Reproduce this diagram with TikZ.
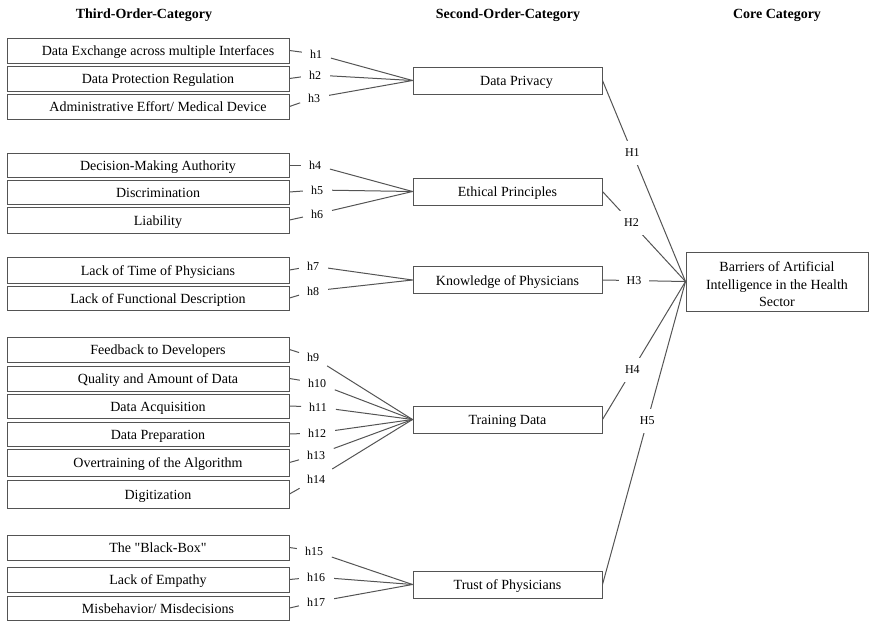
\documentclass[tikz,border=0pt]{standalone}
\usepackage{fontspec}
\setmainfont{Liberation Serif}
\newfontfamily\qfont{Liberation Serif}[Ligatures=TeXOff]
\definecolor{linegray}{gray}{0.33}
\begin{document}
\begin{tikzpicture}[x=1pt,y=-1pt,
  tbox/.style={draw=linegray, line width=1pt, minimum width=282pt, inner sep=0pt, text height=11pt, text depth=1pt, font=\fontsize{14}{17}\selectfont, execute at begin node=\hspace*{20pt}},
  sbox/.style={draw=linegray, line width=1pt, minimum width=189pt, minimum height=27pt, inner sep=0pt, text height=11pt, text depth=1pt, font=\fontsize{14}{17}\selectfont},
  cbox/.style={draw=linegray, line width=1pt, minimum width=182pt, minimum height=59pt, inner sep=0pt, align=center, font=\fontsize{14}{17.5}\selectfont},
  hlab/.style={inner sep=2pt, font=\fontsize{12}{14}\selectfont},
  Hlab/.style={fill=white, inner sep=8pt, font=\fontsize{12}{14}\selectfont},
  head/.style={font=\fontsize{14}{17}\selectfont\bfseries},
  con/.style={draw=linegray, line width=1pt}]
\useasboundingbox (0,0) rectangle (870,621);

% headers
\node[head] (t3) at (144,15) {Third-Order-Category};
\node[head] (t2) at (508,15) {Second-Order-Category};
\node[head] (t1) at (777,15) {Core Category};

% third-order boxes
\node[tbox, minimum height=25pt] (b1) at (148,50.5) {Data Exchange across multiple Interfaces};
\node[tbox, minimum height=25pt] (b2) at (148,78.5) {Data Protection Regulation};
\node[tbox, minimum height=25pt] (b3) at (148,106.5) {Administrative Effort/ Medical Device};
\node[tbox, minimum height=24pt] (b4) at (148,165) {Decision-Making Authority};
\node[tbox, minimum height=24pt] (b5) at (148,192) {Discrimination};
\node[tbox, minimum height=26pt] (b6) at (148,220) {Liability};
\node[tbox, minimum height=26pt] (b7) at (148,270) {Lack of Time of Physicians};
\node[tbox, minimum height=24pt] (b8) at (148,298) {Lack of Functional Description};
\node[tbox, minimum height=25pt] (b9) at (148,349.5) {Feedback to Developers};
\node[tbox, minimum height=25pt] (b10) at (148,378.5) {Quality and Amount of Data};
\node[tbox, minimum height=24pt] (b11) at (148,406) {Data Acquisition};
\node[tbox, minimum height=24pt] (b12) at (148,434) {Data Preparation};
\node[tbox, minimum height=27pt] (b13) at (148,462.5) {Overtraining of the Algorithm};
\node[tbox, minimum height=28pt] (b14) at (148,494) {Digitization};
\node[tbox, minimum height=25pt] (b15) at (148,547.5) {The {\qfont "}Black-Box{\qfont "}};
\node[tbox, minimum height=25pt] (b16) at (148,579.5) {Lack of Empathy};
\node[tbox, minimum height=24pt] (b17) at (148,608) {Misbehavior/ Misdecisions};

% small labels
\node[hlab] (h1) at (316,54) {h1};
\node[hlab] (h2) at (315,75) {h2};
\node[hlab] (h3) at (314,98) {h3};
\node[hlab] (h4) at (315,165) {h4};
\node[hlab] (h5) at (317,190) {h5};
\node[hlab] (h6) at (317,214) {h6};
\node[hlab] (h7) at (313,266) {h7};
\node[hlab] (h8) at (313,291) {h8};
\node[hlab] (h9) at (313,357) {h9};
\node[hlab] (h10) at (317,383) {h10};
\node[hlab] (h11) at (318,407) {h11};
\node[hlab] (h12) at (317,433) {h12};
\node[hlab] (h13) at (316,455) {h13};
\node[hlab] (h14) at (316,479) {h14};
\node[hlab] (h15) at (314,551) {h15};
\node[hlab] (h16) at (316,577) {h16};
\node[hlab] (h17) at (316,602) {h17};

% second-order boxes
\node[sbox, execute at begin node=\hspace*{18pt}] (dp) at (507.5,80.5) {Data Privacy};
\node[sbox] (ep) at (507.5,191.5) {Ethical Principles};
\node[sbox] (kp) at (507.5,280) {Knowledge of Physicians};
\node[sbox] (td) at (507.5,419.5) {Training Data};
\node[sbox] (tp) at (507.5,584.5) {Trust of Physicians};

% core
\node[cbox] (core) at (777,281.5) {\rule{0pt}{16pt}Barriers of Artificial\\Intelligence in the Health\\Sector};

% ticks
\foreach \i in {1,...,17} \draw[con, shorten >=6pt] (b\i.east) -- (h\i);

% fans
\foreach \i in {1,2,3} \draw[con, shorten <=7pt] (h\i) -- (dp.west);
\foreach \i in {4,5,6} \draw[con, shorten <=7pt] (h\i) -- (ep.west);
\foreach \i in {7,8} \draw[con, shorten <=7pt] (h\i) -- (kp.west);
\foreach \i in {9,...,14} \draw[con, shorten <=7pt] (h\i) -- (td.west);
\foreach \i in {15,16,17} \draw[con, shorten <=7pt] (h\i) -- (tp.west);

% to core
\draw[con] (dp.east) -- node[Hlab,pos=0.36] (H1) {H1} (core.west);
\draw[con] (ep.east) -- node[Hlab,pos=0.35] (H2) {H2} (core.west);
\draw[con] (kp.east) -- node[Hlab,pos=0.38] (H3) {H3} (core.west);
\draw[con] (td.east) -- node[Hlab,pos=0.36] (H4) {H4} (core.west);
\draw[con] (tp.east) -- node[Hlab,pos=0.54] (H5) {H5} (core.west);
\end{tikzpicture}
\end{document}
